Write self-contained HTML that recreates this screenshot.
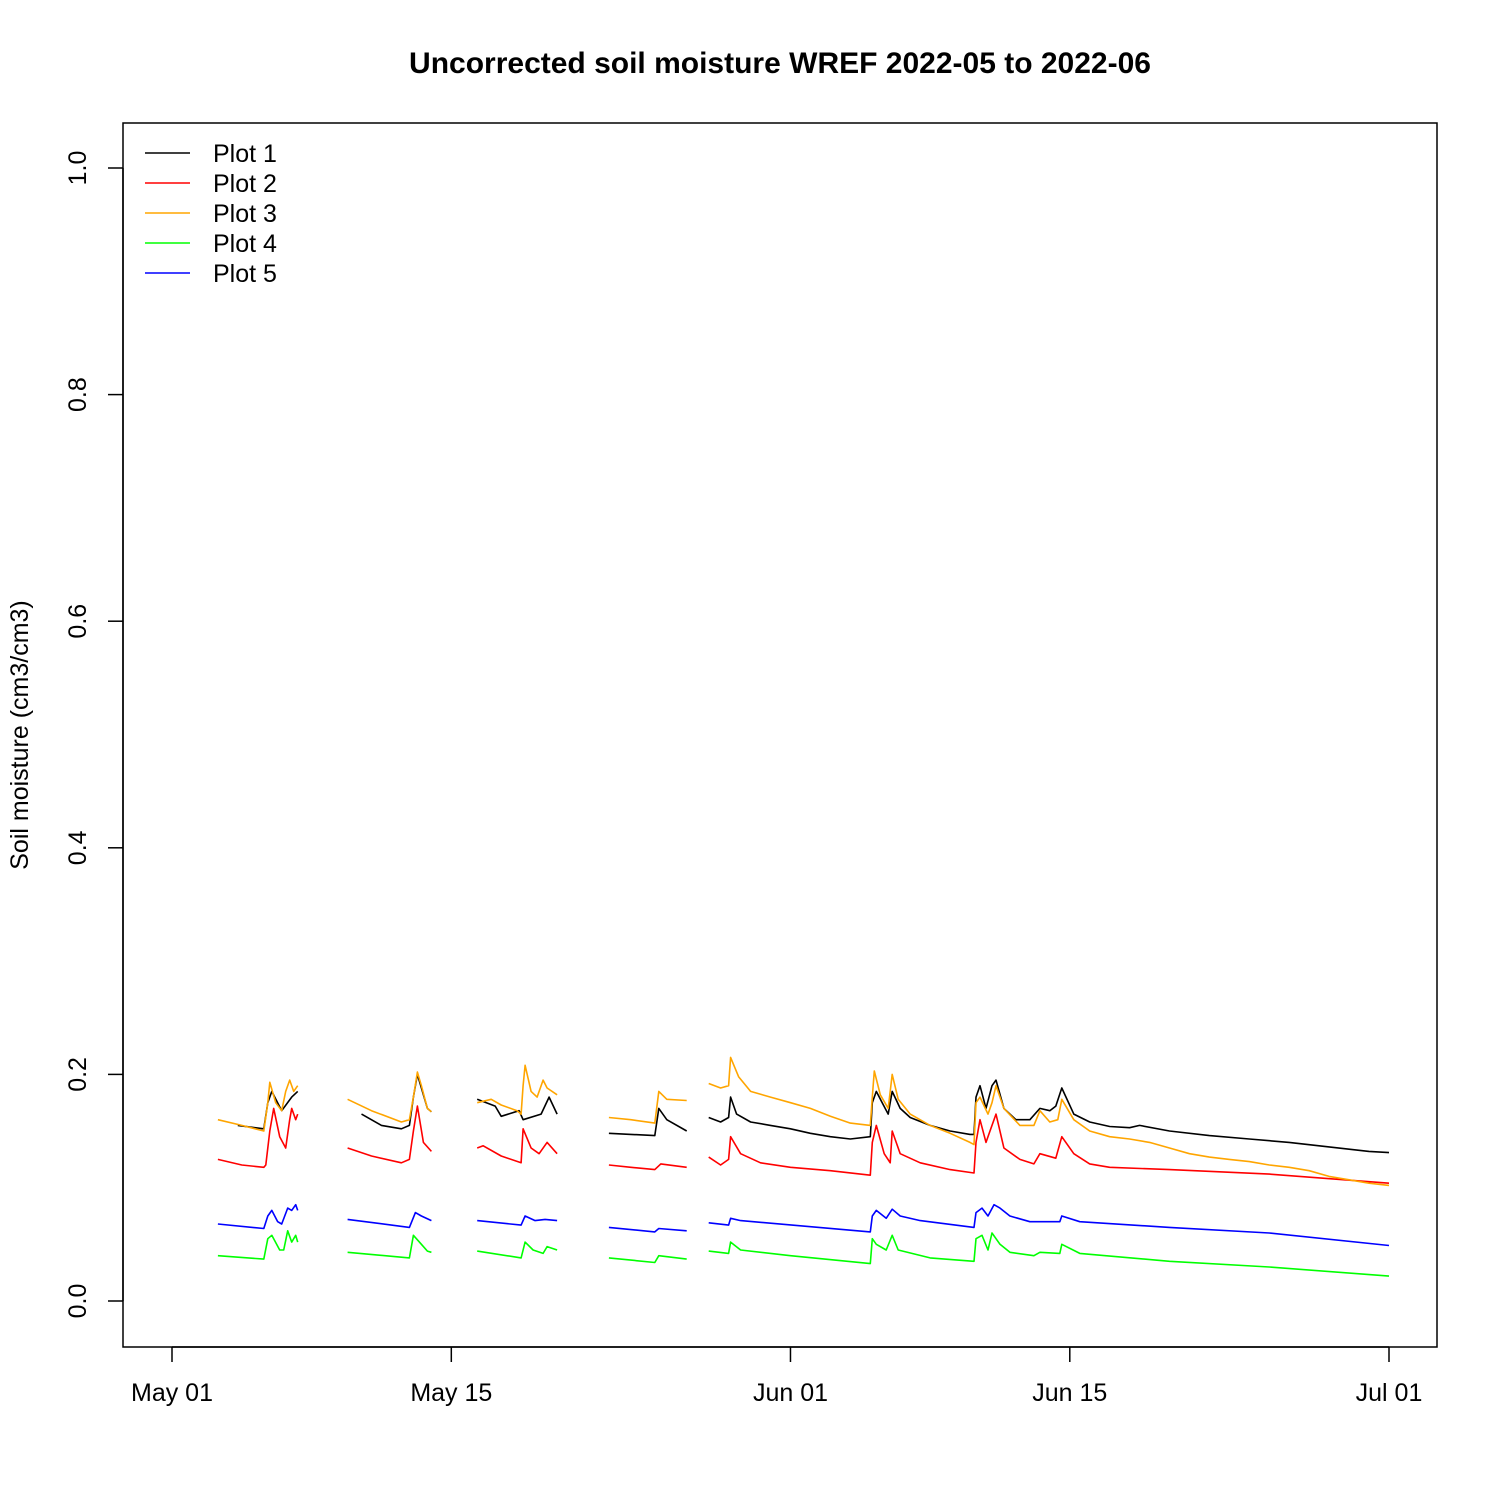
<!DOCTYPE html>
<html><head><meta charset="utf-8"><style>
html,body{margin:0;padding:0;background:#fff;}
svg{display:block;font-family:"Liberation Sans",Arial,sans-serif;}
</style></head><body>
<svg id="chart" width="1500" height="1500"></svg>
<script>
const xTickLabels=["May 01","May 15","Jun 01","Jun 15","Jul 01"];
const xTickDays=[0,14,31,45,61];
const yTickValues=[0,0.2,0.4,0.6,0.8,1.0];
const yTickLabels=["0.0","0.2","0.4","0.6","0.8","1.0"];
const seriesNames=["Plot 1","Plot 2","Plot 3","Plot 4","Plot 5"];
const seriesColors=["#000000","#ff0000","#ffa500","#00ff00","#0000ff"];
const plot1Days=[3.3,4.6,4.8,5.0,5.5,6,6.3,null,9.5,10.5,11.5,11.9,12.1,12.3,12.8,13,null,15.3,16.2,16.5,17.4,17.6,18.5,18.9,19.3,null,21.9,23,24.2,24.4,24.8,25.8,null,26.9,27.5,27.9,28.0,28.3,29,30,31,32,33,34,35,35.1,35.3,35.6,35.9,36.1,36.5,37,38,39,40,40.2,40.3,40.5,40.8,41.1,41.3,41.7,42.3,43,43.5,44,44.3,44.6,45.2,46,47,48,48.5,50,52,54,56,58,60,61];
const plot1Vals=[0.155,0.152,0.175,0.185,0.168,0.18,0.185,null,0.165,0.155,0.152,0.155,0.18,0.20,0.17,0.167,null,0.178,0.172,0.163,0.168,0.160,0.165,0.180,0.165,null,0.148,0.147,0.146,0.170,0.160,0.150,null,0.162,0.158,0.162,0.180,0.165,0.158,0.155,0.152,0.148,0.145,0.143,0.145,0.175,0.185,0.175,0.165,0.185,0.170,0.162,0.155,0.150,0.147,0.147,0.180,0.190,0.170,0.190,0.195,0.170,0.160,0.160,0.170,0.168,0.172,0.188,0.165,0.158,0.154,0.153,0.155,0.150,0.146,0.143,0.140,0.136,0.132,0.131];
const plot2Days=[2.3,3.5,4.6,4.7,4.9,5.1,5.4,5.7,5.9,6.0,6.2,6.3,null,8.8,10,11.5,11.9,12.1,12.3,12.6,13,null,15.3,15.6,16.5,17.5,17.6,18.0,18.4,18.8,19.3,null,21.9,23,24.2,24.5,25.8,null,26.9,27.5,27.9,28.0,28.5,29.5,31,33,35,35.1,35.3,35.7,36,36.1,36.5,37.5,39,40.2,40.3,40.5,40.8,41.0,41.3,41.7,42.5,43.2,43.5,44.3,44.6,45.2,46,47,50,55,61];
const plot2Vals=[0.125,0.120,0.118,0.120,0.150,0.170,0.145,0.135,0.160,0.170,0.160,0.165,null,0.135,0.128,0.122,0.125,0.150,0.172,0.140,0.132,null,0.135,0.137,0.128,0.122,0.152,0.135,0.130,0.140,0.130,null,0.120,0.118,0.116,0.121,0.118,null,0.127,0.120,0.125,0.145,0.130,0.122,0.118,0.115,0.111,0.140,0.155,0.130,0.122,0.150,0.130,0.122,0.116,0.113,0.140,0.160,0.140,0.150,0.165,0.135,0.125,0.121,0.130,0.126,0.145,0.130,0.121,0.118,0.116,0.112,0.104];
const plot3Days=[2.3,3.5,4.6,4.8,4.9,5.2,5.5,5.7,5.9,6.1,6.3,null,8.8,10,11.5,11.9,12.1,12.3,12.5,12.8,13,null,15.3,16,16.5,17.3,17.5,17.6,17.7,18.0,18.3,18.6,18.8,19.3,null,21.9,23,24.2,24.4,24.8,25.8,null,26.9,27.5,27.9,28.0,28.4,29,30,31,32,33,34,35,35.1,35.2,35.5,35.9,36.1,36.4,37,38,39,40,40.2,40.3,40.5,40.9,41.1,41.3,41.7,42.5,43.2,43.5,44,44.4,44.6,45.2,46,47,48,49,50,51,52,53,54,55,56,57,58,59,60,61];
const plot3Vals=[0.160,0.155,0.150,0.175,0.193,0.175,0.168,0.185,0.195,0.185,0.190,null,0.178,0.168,0.158,0.160,0.180,0.202,0.190,0.170,0.167,null,0.175,0.178,0.173,0.168,0.165,0.190,0.208,0.185,0.180,0.195,0.188,0.182,null,0.162,0.160,0.157,0.185,0.178,0.177,null,0.192,0.188,0.190,0.215,0.198,0.185,0.180,0.175,0.170,0.163,0.157,0.155,0.180,0.203,0.182,0.170,0.200,0.178,0.165,0.155,0.148,0.140,0.138,0.175,0.180,0.165,0.175,0.190,0.170,0.155,0.155,0.168,0.158,0.160,0.178,0.160,0.150,0.145,0.143,0.140,0.135,0.130,0.127,0.125,0.123,0.120,0.118,0.115,0.110,0.107,0.104,0.102];
const plot4Days=[2.3,4.6,4.8,5.0,5.4,5.6,5.8,6.0,6.2,6.3,null,8.8,11.9,12.1,12.5,12.8,13,null,15.3,17.5,17.7,18.1,18.6,18.8,19.3,null,21.9,24.2,24.4,25.8,null,26.9,27.9,28.0,28.5,31,35,35.1,35.3,35.8,36.1,36.4,38,40.2,40.3,40.6,40.9,41.1,41.5,42,43.2,43.5,44.5,44.6,45.5,50,55,61];
const plot4Vals=[0.040,0.037,0.055,0.058,0.045,0.045,0.062,0.052,0.058,0.052,null,0.043,0.038,0.058,0.050,0.044,0.043,null,0.044,0.038,0.052,0.045,0.042,0.048,0.045,null,0.038,0.034,0.040,0.037,null,0.044,0.042,0.052,0.045,0.040,0.033,0.055,0.050,0.045,0.058,0.045,0.038,0.035,0.055,0.058,0.045,0.060,0.050,0.043,0.040,0.043,0.042,0.050,0.042,0.035,0.030,0.022];
const plot5Days=[2.3,4.6,4.8,5.0,5.3,5.5,5.8,6.0,6.2,6.3,null,8.8,11.9,12.2,12.5,13,null,15.3,17.5,17.7,18.2,18.7,19.3,null,21.9,24.2,24.4,25.8,null,26.9,27.9,28.0,28.5,35,35.1,35.3,35.8,36.1,36.5,37.5,40.2,40.3,40.6,40.9,41.2,41.5,42,43,44.5,44.6,45.5,50,55,61];
const plot5Vals=[0.068,0.064,0.075,0.080,0.070,0.068,0.082,0.080,0.085,0.080,null,0.072,0.065,0.078,0.075,0.071,null,0.071,0.067,0.075,0.071,0.072,0.071,null,0.065,0.061,0.064,0.062,null,0.069,0.067,0.073,0.071,0.061,0.075,0.080,0.073,0.081,0.075,0.071,0.065,0.078,0.082,0.075,0.085,0.082,0.075,0.070,0.070,0.075,0.070,0.065,0.060,0.049];

const NS="http://www.w3.org/2000/svg";
const svg=document.getElementById('chart');
const L=123,R=1437,T=123,B=1347;
function xScale(d){return 172+d*(1389-172)/61;}
function yScale(v){return 1301-v*(1301-168);}
function mk(tag,attrs,parent){const e=document.createElementNS(NS,tag);for(const k in attrs)e.setAttribute(k,attrs[k]);(parent||svg).appendChild(e);return e;}

const title=mk('text',{x:780,y:73,'text-anchor':'middle','font-size':30,'font-weight':'bold'});


title.textContent="Uncorrected soil moisture WREF 2022-05 to 2022-06";

const frame=mk('rect',{x:L,y:T,width:R-L,height:B-T,fill:'none',stroke:'#000','stroke-width':1.5});



const xAxis=mk('g',{});


mk('line',{x1:xScale(xTickDays[0]),x2:xScale(xTickDays[xTickDays.length-1]),y1:B,y2:B,stroke:'#000','stroke-width':1.5},xAxis);
xTickDays.forEach((d,i)=>{
  mk('line',{x1:xScale(d),x2:xScale(d),y1:B,y2:B+15,stroke:'#000','stroke-width':1.5},xAxis);
  const t=mk('text',{x:xScale(d),y:1401,'text-anchor':'middle','font-size':25},xAxis);
  
  
  t.textContent=xTickLabels[i];
});
const yAxis=mk('g',{});


mk('line',{x1:L,x2:L,y1:yScale(0),y2:yScale(1),stroke:'#000','stroke-width':1.5},yAxis);
yTickValues.forEach((v,i)=>{
  mk('line',{x1:L-15,x2:L,y1:yScale(v),y2:yScale(v),stroke:'#000','stroke-width':1.5},yAxis);
  const t=mk('text',{x:86,y:yScale(v),'text-anchor':'middle','font-size':25,transform:`rotate(-90 86 ${yScale(v)})`},yAxis);
  
  
  t.textContent=yTickLabels[i];
});
const yt=mk('text',{x:28,y:735,'text-anchor':'middle','font-size':25,transform:'rotate(-90 28 735)'});


yt.textContent="Soil moisture (cm3/cm3)";

const allDays=[plot1Days,plot2Days,plot3Days,plot4Days,plot5Days];
const allVals=[plot1Vals,plot2Vals,plot3Vals,plot4Vals,plot5Vals];
const drawOrder=[0,1,3,4,2];
drawOrder.forEach(s=>{
  const days=allDays[s],vals=allVals[s];
  let d="",pen=false;
  for(let i=0;i<days.length;i++){
    if(days[i]===null||vals[i]===null){pen=false;continue;}
    d+=(pen?"L":"M")+xScale(days[i]).toFixed(1)+" "+yScale(vals[i]).toFixed(1)+" ";
    pen=true;
  }
  const p=mk('path',{d:d,fill:'none',stroke:seriesColors[s],'stroke-width':1.6,'stroke-linejoin':'round'});
  
  
});

const legend=mk('g',{});


seriesNames.forEach((n,i)=>{
  const y=153+i*30;
  const g=mk('g',{},legend);
  
  
  mk('line',{x1:145,x2:190,y1:y,y2:y,stroke:seriesColors[i],'stroke-width':1.5},g);
  const t=mk('text',{x:213,y:y+9,'font-size':25},g);
  t.textContent=n;
});
</script>
</body></html>
